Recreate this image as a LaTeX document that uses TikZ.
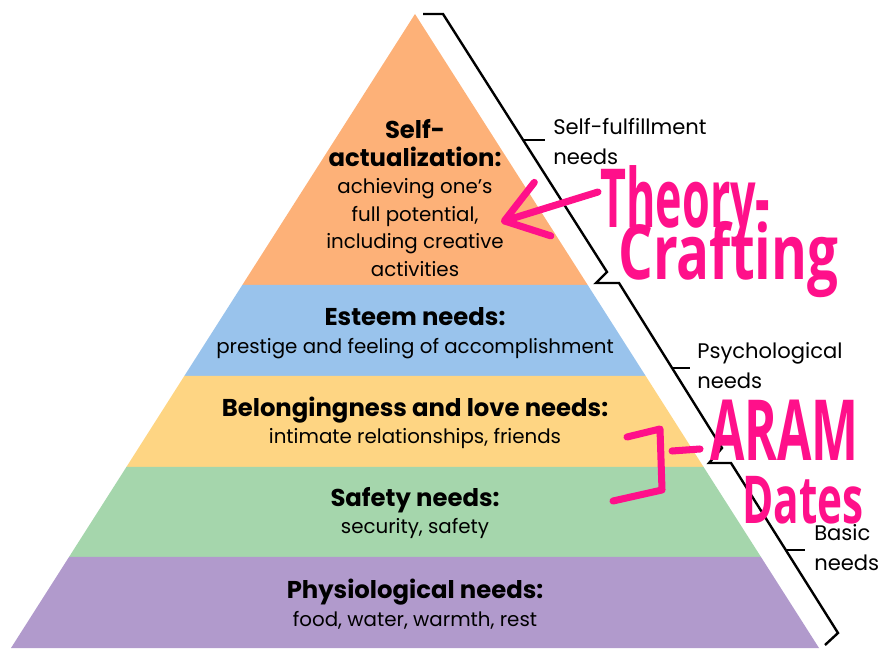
\documentclass[tikz,border=0pt]{standalone}
\usepackage{fontspec}
\setmainfont{Poppins}
\newfontfamily\handfont{Open Sans}
\usetikzlibrary{arrows.meta}

\definecolor{selfcol}{RGB}{253,177,120}
\definecolor{esteemcol}{RGB}{153,195,236}
\definecolor{belongcol}{RGB}{254,213,131}
\definecolor{safetycol}{RGB}{165,214,172}
\definecolor{physiocol}{RGB}{177,154,204}
\definecolor{markpink}{RGB}{255,16,138}

\newcommand{\needtitle}[1]{{\bfseries\fontsize{17.3}{20}\selectfont #1}}

\begin{document}
\begin{tikzpicture}[x=0.025cm, y=-0.025cm,
    needtext/.style={align=center, inner sep=0pt, font=\fontsize{14.1}{19.6}\selectfont},
    sidetext/.style={align=left, anchor=west, inner sep=0pt, font=\fontsize{15}{21.3}\selectfont},
    bracketline/.style={line width=1.7pt, line join=miter},
    pinkpen/.style={draw=markpink, line width=5pt, line cap=round, line join=round},
    scribble/.style={text=markpink, inner sep=0pt, anchor=base west, font=\handfont\bfseries\fontsize{58}{58}\selectfont}]

    \useasboundingbox (0,0) rectangle (888,661);

    % --- The five layers of the pyramid, top to bottom ---
    \fill[selfcol]   (415,14) -- (587.7,285) -- (242.3,285) -- cycle;
    \fill[esteemcol] (242.3,285) -- (587.7,285) -- (645.7,376) -- (184.3,376) -- cycle;
    \fill[belongcol] (184.3,376) -- (645.7,376) -- (703.6,467) -- (126.4,467) -- cycle;
    \fill[safetycol] (126.4,467) -- (703.6,467) -- (761.0,557) -- (69.0,557) -- cycle;
    \fill[physiocol] (69.0,557) -- (761.0,557) -- (819,648) -- (11,648) -- cycle;

    % --- Text inside each layer ---
    \node[needtext] (selfact) at (415,198) {\needtitle{Self-}\\\needtitle{actualization:}\\achieving one’s\\full potential,\\including creative\\activities};
    \node[needtext] (esteem) at (415,333) {\needtitle{Esteem needs:}\\prestige and feeling of accomplishment};
    \node[needtext] (belong) at (415,423) {\needtitle{Belongingness and love needs:}\\intimate relationships, friends};
    \node[needtext] (safety) at (415,513) {\needtitle{Safety needs:}\\security, safety};
    \node[needtext] (physio) at (415,604) {\needtitle{Physiological needs:}\\food, water, warmth, rest};

    % --- Bracket along the right side, one section per group of needs ---
    \draw[bracketline] (423,14) -- (443,14) -- (607,272) -- (596,283) -- (619,283)
        -- (722,448) -- (709,463) -- (731,463) -- (838,633) -- (825,645);

    % short ticks pointing to the group labels
    \coordinate (tickself) at (523,140);
    \coordinate (tickpsych) at (673,368);
    \coordinate (tickbasic) at (786,550);
    \draw[bracketline] (tickself) -- ++(22,0);
    \draw[bracketline] (tickpsych) -- ++(17,0);
    \draw[bracketline] (tickbasic) -- ++(19,0);

    % group labels
    \node[sidetext] (selfful) at (553,142) {Self-fulfillment\\needs};
    \node[sidetext] (psych) at (697,366) {Psychological\\needs};
    \node[sidetext] (basic) at (814,548) {Basic\\needs};

    % --- Pink handwritten notes ---
    \node[scribble] (theory) at (600,228) {\scalebox{0.55}[1]{Theory-}};
    \node[scribble, font=\handfont\bfseries\fontsize{54}{54}\selectfont] (crafting) at (618,280) {\scalebox{0.72}[1]{Crafting}};
    \coordinate (arrowtail) at (598,192);
    \coordinate (arrowtip) at (501,222);
    \draw[pinkpen, -{Straight Barb[length=10mm, width=14mm, round]}] (arrowtail) -- (arrowtip);

    \node[scribble, font=\handfont\bfseries\fontsize{60}{60}\selectfont] (aram) at (710,461) {\scalebox{0.59}[1]{ARAM}};
    \node[scribble, font=\handfont\bfseries\fontsize{47}{47}\selectfont] (dates) at (742,524) {\scalebox{0.64}[1]{Dates}};
    \draw[pinkpen] (627,437) -- (660,429) -- (662,490) -- (613,501);
    \coordinate (dashend) at (700,449);
    \draw[pinkpen] (672,451) -- (dashend);
\end{tikzpicture}
\end{document}
